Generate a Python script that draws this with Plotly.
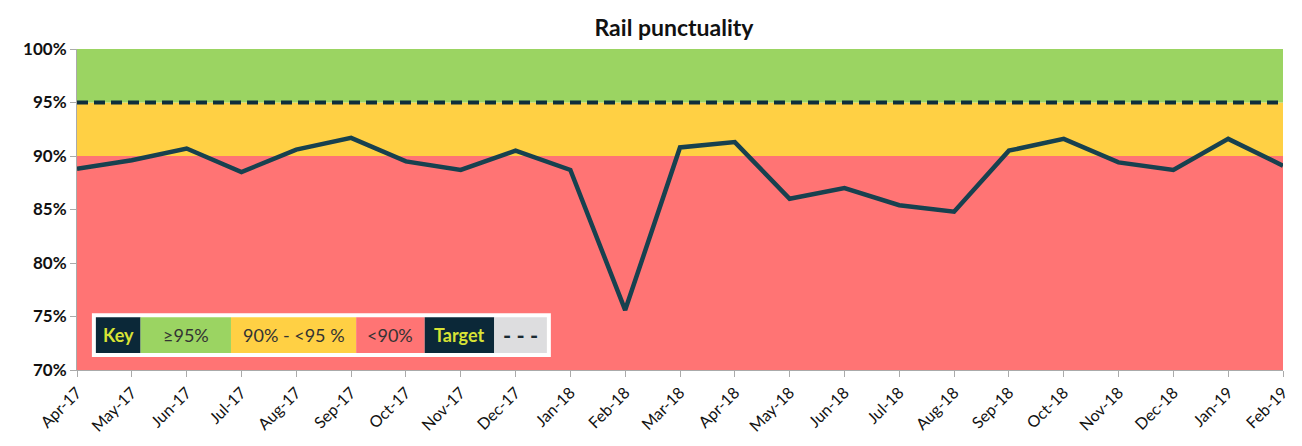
import plotly.graph_objects as go

months = ["Apr-17", "May-17", "Jun-17", "Jul-17", "Aug-17", "Sep-17", "Oct-17", "Nov-17",
          "Dec-17", "Jan-18", "Feb-18", "Mar-18", "Apr-18", "May-18", "Jun-18", "Jul-18",
          "Aug-18", "Sep-18", "Oct-18", "Nov-18", "Dec-18", "Jan-19", "Feb-19"]
punctuality = [88.8, 89.6, 90.7, 88.5, 90.6, 91.7, 89.5, 88.7, 90.5, 88.7, 75.6, 90.8,
               91.3, 86.0, 87.0, 85.4, 84.8, 90.5, 91.6, 89.4, 88.7, 91.6, 89.1]
target = [95] * len(months)
band_edges = [70, 90, 95, 100]
band_colors = ["#FF7474", "#FFD044", "#9BD462"]
y_ticks = [70, 75, 80, 85, 90, 95, 100]

FONT = "Lato"
W, H = 1302, 446
ML, MR, MT, MB = 77, 11, 49, 75
PW, PH = W - ML - MR, H - MT - MB

def px_x(p):
    return (p - ML) / PW

def px_y(p):
    return (H - MB - p) / PH

fig = go.Figure()

shapes = []
for i in range(3):
    shapes.append(dict(type="rect", xref="paper", yref="y", x0=0, x1=1,
                       y0=band_edges[i], y1=band_edges[i + 1],
                       fillcolor=band_colors[i], line=dict(width=0), layer="below"))

fig.add_trace(go.Scatter(x=months, y=target, mode="lines",
                         line=dict(color="#0E2F3C", width=4, dash="11px,6px"),
                         hoverinfo="skip", showlegend=False))
fig.add_trace(go.Scatter(x=months, y=punctuality, mode="lines",
                         line=dict(color="#17414F", width=4.5),
                         showlegend=False))

# Key box
key_cells = [
    ("Key", 96, 141, "#0B2838", "#D8E335", True),
    ("\u226595%", 141, 232, "#9BD462", "#333333", False),
    ("90% - <95 %", 232, 358, "#FFD044", "#333333", False),
    ("<90%", 358, 427, "#FF7474", "#333333", False),
    ("Target", 427, 497, "#0B2838", "#D8E335", True),
    ("- - -", 497, 550, "#DDDDDF", "#1A2A33", True),
]
ky0, ky1 = 318, 354
shapes.append(dict(type="rect", xref="paper", yref="paper",
                   x0=px_x(92), x1=px_x(554), y0=px_y(ky1 + 4), y1=px_y(ky0 - 4),
                   fillcolor="white", line=dict(width=0)))
annotations = []
for label, x0, x1, bg, fg, bold in key_cells:
    shapes.append(dict(type="rect", xref="paper", yref="paper",
                       x0=px_x(x0), x1=px_x(x1), y0=px_y(ky1), y1=px_y(ky0),
                       fillcolor=bg, line=dict(width=0)))
    txt = f"<b>{label}</b>" if bold else label
    annotations.append(dict(xref="paper", yref="paper", x=px_x((x0 + x1) / 2),
                            y=px_y((ky0 + ky1) / 2), text=txt, showarrow=False,
                            xanchor="center", yanchor="middle",
                            font=dict(family=FONT, size=18 if label != "- - -" else 22, color=fg)))

fig.update_layout(
    width=W, height=H,
    margin=dict(l=ML, r=MR, t=MT, b=MB),
    paper_bgcolor="white", plot_bgcolor="white",
    title=dict(text="<b>Rail punctuality</b>", x=674 / W, xanchor="center",
               y=1 - 28 / H, yanchor="middle",
               font=dict(family=FONT, size=23, color="#111111")),
    shapes=shapes, annotations=annotations,
    showlegend=False,
)
fig.update_xaxes(type="category", range=[0, len(months) - 1], tickangle=-45,
                 tickfont=dict(family=FONT, size=16, color="#111111"),
                 showgrid=False, showline=True, linecolor="#AAAAAA", linewidth=1,
                 ticks="outside", ticklen=6, tickcolor="#AAAAAA")
fig.update_yaxes(range=[70, 100], tickvals=y_ticks,
                 ticktext=[f"<b>{v}%</b>" for v in y_ticks],
                 tickfont=dict(family=FONT, size=17, color="#111111"),
                 showgrid=False, showline=True, linecolor="#AAAAAA", linewidth=1,
                 ticks="outside", ticklen=6, tickcolor="#AAAAAA", zeroline=False)

fig.write_html("out.html")
